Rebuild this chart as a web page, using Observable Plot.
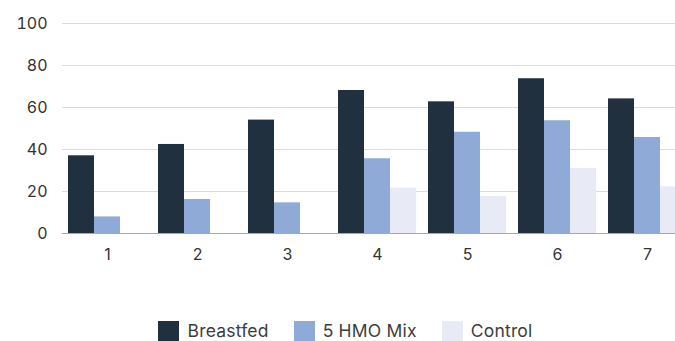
<!DOCTYPE html>
<html>
<head>
<meta charset="utf-8">
<script src="https://cdn.jsdelivr.net/npm/d3@7"></script>
<script src="https://cdn.jsdelivr.net/npm/@observablehq/plot@0.6"></script>
<style>
  body { margin: 0; background: #fff; font-family: Inter, "Noto Sans", sans-serif; overflow: hidden; }
  #chart { width: 675px; overflow: hidden; }
  #chart svg { overflow: hidden; }
  .legend { display: flex; justify-content: center; align-items: center; height: 41px; padding-left: 16px; box-sizing: border-box; padding-top: 20px; padding-bottom: 0; }
  .legend .item { display: flex; align-items: center; margin: 0 12.5px; font-size: 17.5px; letter-spacing: 0.2px; color: #3d3d3d; line-height: 20px; }
  .legend .sw { width: 21px; height: 20px; margin-right: 8px; }
</style>
</head>
<body>
<div id="chart"></div>
<div class="legend" id="legend"></div>
<script>
// Timepoints along the x axis
const groups = ["1", "2", "3", "4", "5", "6", "7"];
// Series names and fill colours
const series = ["Breastfed", "5 HMO Mix", "Control"];
const colors = ["#21303f", "#8faad6", "#e8eaf5"];
// Values per timepoint for each series (null = no bar)
const breastfed = [37, 42.4, 54, 68.1, 62.7, 73.7, 64.1];
const hmoMix = [7.9, 16.2, 14.6, 35.6, 48.2, 53.7, 45.7];
const control = [null, null, null, 21.6, 17.6, 31, 22.2];
// Y axis ticks
const yTicks = [0, 20, 40, 60, 80, 100];

const rows = [];
[breastfed, hmoMix, control].forEach((vals, si) => {
  vals.forEach((v, gi) => {
    if (v != null) rows.push({group: groups[gi], series: series[si], value: v});
  });
});

const chart = Plot.plot({
  width: 675,
  height: 300,
  marginLeft: 62,
  marginRight: -17,
  marginTop: 23,
  marginBottom: 67,
  style: {fontFamily: "Inter, 'Noto Sans', sans-serif", fontSize: "16px", color: "#333", background: "#fff"},
  fx: {domain: groups, padding: 0, label: null, axis: "bottom", tickSize: 0, tickPadding: 15},
  x: {domain: series, paddingInner: 0, paddingOuter: 0.23, axis: null},
  y: {domain: [0, 100], ticks: yTicks, label: null, tickSize: 0, tickPadding: 15},
  color: {domain: series, range: colors},
  marks: [
    Plot.gridY(yTicks, {stroke: "#dcdcdc", strokeOpacity: 1, strokeWidth: 1}),
    Plot.barY(rows, {fx: "group", x: "series", y: "value", fill: "series", inset: 0}),
    Plot.ruleY([0], {stroke: "#a8a8a8", strokeWidth: 1})
  ]
});
document.getElementById("chart").appendChild(chart);

const legend = document.getElementById("legend");
series.forEach((s, i) => {
  const item = document.createElement("div");
  item.className = "item";
  const sw = document.createElement("span");
  sw.className = "sw";
  sw.style.background = colors[i];
  item.appendChild(sw);
  item.appendChild(document.createTextNode(s));
  legend.appendChild(item);
});
</script>
</body>
</html>
